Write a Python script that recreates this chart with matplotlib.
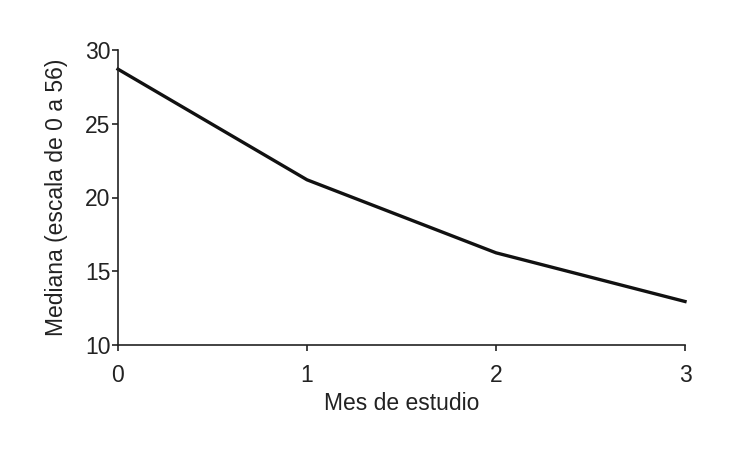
import matplotlib
matplotlib.use("Agg")
import matplotlib.pyplot as plt

plt.rcParams['font.family'] = ['Liberation Sans', 'DejaVu Sans']

months = [0, 1, 2, 3]
median = [28.7, 21.2, 16.25, 12.95]
xticks = [0, 1, 2, 3]
yticks = [10, 15, 20, 25, 30]

fig = plt.figure(figsize=(7.3, 4.55), dpi=100)
ax = fig.add_axes([118/730, 1-345/455, (685-118)/730, (345-50)/455])
ax.plot(months, median, color='#111111', lw=2.4, solid_joinstyle='round', clip_on=False)
ax.set_xlim(0, 3)
ax.set_ylim(10, 30)
ax.set_xticks(xticks)
ax.set_yticks(yticks)
for s in ['top', 'right']:
    ax.spines[s].set_visible(False)
for s in ['left', 'bottom']:
    ax.spines[s].set_linewidth(1.2)
    ax.spines[s].set_color('#222222')
fs = 16.5
ax.tick_params(axis='both', direction='out', length=4.5, width=1.2, color='#222222', labelsize=fs, labelcolor='#222222')
ax.tick_params(axis='y', pad=1)
ax.tick_params(axis='x', pad=9)
ax.set_xlabel('Mes de estudio', fontsize=fs, color='#222222', labelpad=4)
ax.set_ylabel('Mediana (escala de 0 a 56)', fontsize=fs, color='#222222', labelpad=12)
fig.savefig('out.png', dpi=100)
